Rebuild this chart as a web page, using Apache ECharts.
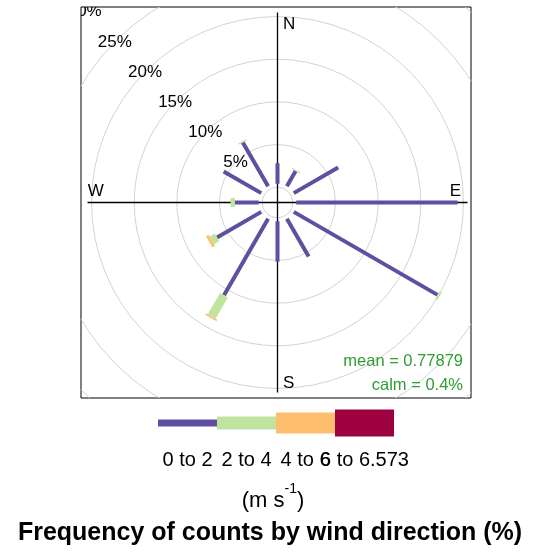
<!DOCTYPE html>
<html><head><meta charset="utf-8">
<script src="https://cdn.jsdelivr.net/npm/echarts@6/dist/echarts.min.js"></script>
<style>html,body{margin:0;padding:0;background:#fff}#c{width:539px;height:552px}</style>
</head><body><div id="c"></div>
<script>
// ---------- data ----------
const directions = [0, 30, 60, 90, 120, 150, 180, 210, 240, 270, 300, 330];
const speedBins = ['0 to 2', '2 to 4', '4 to 6', '6 to 6.573'];
const freq0to2 = [2.8, 2.45, 6.41, 19.31, 19.86, 5.51, 5.14, 10.74, 6.39, 3.19, 5.49, 6.33];
const freq2to4 = [0, 0.15, 0, 0, 0.3, 0, 0, 2.9, 0.7, 0.5, 0, 0.15];
const freq4to6 = [0, 0, 0, 0, 0, 0, 0, 0.2, 0.35, 0, 0, 0];
const freq6to7 = [0, 0, 0, 0, 0, 0, 0, 0, 0, 0, 0, 0];
const gridPercents = [5, 10, 15, 20, 25, 30];
const gridLabels = ['5%', '10%', '15%', '20%', '25%', '30%'];
const compassLabels = ['N', 'E', 'S', 'W'];
const meanSpeed = '0.77879';
const calmPct = '0.4%';
const unitsLabel = 'm s';
const titleText = 'Frequency of counts by wind direction (%)';

// ---------- layout / style ----------
const FONT = '"Liberation Sans", Arial, sans-serif';
const binColors = ['#5E4FA2', '#BFE49E', '#FDBF6F', '#9E0142'];
const binWidthsPx = [4, 9, 13, 17];
const GRID = {left: 81, top: 7, width: 390, height: 391};
const CX = 277.5, CY = 202.5, PX = 8.53;   // centre (px) and px per percent
const OFFSET = 1.8;   // calm hole radius in percent units
const GAP = 0.4;      // bars start just outside the hole
const AXLEN = 190 / PX;
const xMin = -(CX - GRID.left) / PX, xMax = (GRID.left + GRID.width - CX) / PX;
const yMin = -(GRID.top + GRID.height - CY) / PX, yMax = (CY - GRID.top) / PX;

const bins = [freq0to2, freq2to4, freq4to6, freq6to7];
const cum = directions.map(() => 0);
const barSeries = bins.map((vals, bi) => {
  const data = [];
  directions.forEach((d, i) => {
    const base = cum[i];
    const top = base + vals[i];
    cum[i] = top;
    if (vals[i] > 0) data.push([d, base, top]);
  });
  return {
    type: 'custom', name: speedBins[bi], clip: true, z: 5,
    data: data,
    renderItem: function (params, api) {
      const th = api.value(0) * Math.PI / 180;
      const ux = Math.sin(th), uy = Math.cos(th), nx = Math.cos(th), ny = -Math.sin(th);
      const r0 = OFFSET + Math.max(api.value(1), GAP);
      const r1 = OFFSET + api.value(2);
      const w = binWidthsPx[bi] / PX / 2;
      const pts = [
        api.coord([r0 * ux + w * nx, r0 * uy + w * ny]),
        api.coord([r1 * ux + w * nx, r1 * uy + w * ny]),
        api.coord([r1 * ux - w * nx, r1 * uy - w * ny]),
        api.coord([r0 * ux - w * nx, r0 * uy - w * ny])
      ];
      return {type: 'polygon', shape: {points: pts}, style: {fill: binColors[bi]}};
    }
  };
});

const circleSeries = {
  type: 'custom', clip: true, z: 1, silent: true,
  data: [0].concat(gridPercents).map(p => [p, 0]),
  renderItem: function (params, api) {
    const c = api.coord([0, 0]);
    const e = api.coord([OFFSET + api.value(0), 0]);
    return {type: 'circle', shape: {cx: c[0], cy: c[1], r: e[0] - c[0]},
      style: {fill: 'none', stroke: '#d3d3d3', lineWidth: 1}};
  }
};

const axisSeries = {
  type: 'custom', clip: true, z: 2, silent: true,
  data: [[0, 0], [90, 0], [180, 0], [270, 0]],
  renderItem: function (params, api) {
    const th = api.value(0) * Math.PI / 180;
    const a = api.coord([0, 0]);
    const b = api.coord([AXLEN * Math.sin(th), AXLEN * Math.cos(th)]);
    return {type: 'line', shape: {x1: a[0], y1: a[1], x2: b[0], y2: b[1]},
      style: {stroke: '#000', lineWidth: 1.3}};
  }
};

const pctLabelSeries = {
  type: 'custom', clip: true, z: 8, silent: true,
  data: gridPercents.map((p, i) => [p, i]),
  renderItem: function (params, api) {
    const r = OFFSET + api.value(0);
    const th = 315 * Math.PI / 180;
    const pt = api.coord([r * Math.sin(th), r * Math.cos(th)]);
    return {type: 'text', x: pt[0] - 1, y: pt[1] + 1,
      style: {text: gridLabels[api.value(1)], fill: '#000', font: '17px ' + FONT,
        align: 'center', verticalAlign: 'middle'}};
  }
};

// compass label anchor positions in percent units (layout)
const compassPos = [[0.65, 20.85, 'left'], [20.85, 1.3, 'center'], [0.65, -21.2, 'left'], [-21.3, 1.3, 'center']];
const compassSeries = {
  type: 'custom', clip: true, z: 8, silent: true,
  data: compassLabels.map((l, i) => [i, 0]),
  renderItem: function (params, api) {
    const i = api.value(0);
    const p = compassPos[i];
    const pt = api.coord([p[0], p[1]]);
    return {type: 'text', x: pt[0], y: pt[1],
      style: {text: compassLabels[i], fill: '#000', font: '17px ' + FONT,
        align: p[2], verticalAlign: 'middle'}};
  }
};

// legend graphics
const legX0 = 158, legW = 59, legCY = 423;
const legH = [7, 13, 21, 27];
const legendRects = binColors.map((col, i) => ({
  type: 'rect', shape: {x: legX0 + i * legW, y: legCY - legH[i] / 2, width: legW, height: legH[i]},
  style: {fill: col}
}));
const legendTexts = speedBins.map((t, i) => ({
  type: 'text', x: legX0 + i * legW + legW / 2, y: 460,
  style: {text: t, fill: '#000', font: '20px ' + FONT, align: 'center', verticalAlign: 'middle'}
}));

const chart = echarts.init(document.getElementById('c'), null, {renderer: 'canvas'});
chart.setOption({
  animation: false,
  backgroundColor: '#fff',
  grid: {left: GRID.left, top: GRID.top, width: GRID.width, height: GRID.height,
    show: true, borderColor: '#000', borderWidth: 1, backgroundColor: '#fff'},
  xAxis: {type: 'value', min: xMin, max: xMax, show: false},
  yAxis: {type: 'value', min: yMin, max: yMax, show: false},
  series: [circleSeries, axisSeries].concat(barSeries, [pctLabelSeries, compassSeries]),
  graphic: [
    {type: 'text', x: 463, y: 361, z: 10,
      style: {text: 'mean = ' + meanSpeed, fill: '#2f9e2f', font: '16.5px ' + FONT, align: 'right', verticalAlign: 'middle'}},
    {type: 'text', x: 463, y: 385, z: 10,
      style: {text: 'calm = ' + calmPct, fill: '#2f9e2f', font: '16.5px ' + FONT, align: 'right', verticalAlign: 'middle'}}
  ].concat(legendRects, legendTexts, [
    {type: 'text', x: 273, y: 497,
      style: {text: '{a|(' + unitsLabel + '}{s|-1}{a|)}', align: 'center', verticalAlign: 'middle',
        rich: {a: {font: '22px ' + FONT, fill: '#000', lineHeight: 30, verticalAlign: 'bottom'},
               s: {font: '14px ' + FONT, fill: '#000', lineHeight: 30, verticalAlign: 'top'}}}},
    {type: 'text', x: 270, y: 533,
      style: {text: titleText, fill: '#000', font: 'bold 25px ' + FONT, align: 'center', verticalAlign: 'middle'}}
  ])
});
</script></body></html>
